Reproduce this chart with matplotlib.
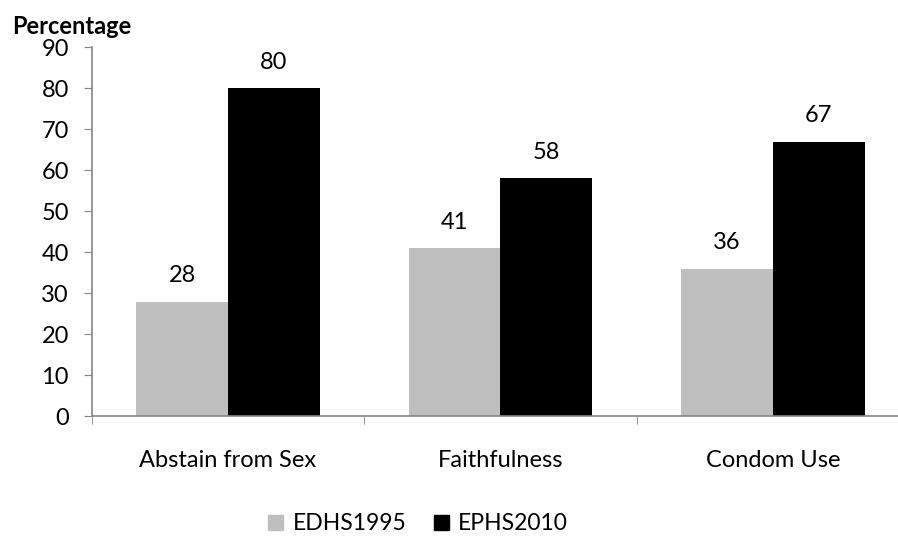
import matplotlib
matplotlib.use("Agg")
import matplotlib.pyplot as plt
from matplotlib.patches import Patch
import numpy as np

categories = ["Abstain from Sex", "Faithfulness", "Condom Use"]
edhs1995 = [28, 41, 36]
ephs2010 = [80, 58, 67]
series_names = ["EDHS1995", "EPHS2010"]

plt.rcParams['font.family'] = ['Lato', 'DejaVu Sans']

fig = plt.figure(figsize=(8.98, 5.37), dpi=100)
ax = fig.add_axes([91.7 / 898, 1 - 416.3 / 537, 817.5 / 898, (416.3 - 47.3) / 537])

x = np.arange(len(categories))
w = 0.336
gray = "#bfbfbf"
axis_col = "#868686"
fs = 17

b1 = ax.bar(x - w / 2, edhs1995, w, color=gray)
b2 = ax.bar(x + w / 2, ephs2010, w, color="black")

for bars, vals in ((b1, edhs1995), (b2, ephs2010)):
    for r, v in zip(bars, vals):
        ax.annotate(str(v), (r.get_x() + r.get_width() / 2, v), xytext=(0, 11),
                    textcoords="offset points", ha="center", va="bottom", fontsize=fs)

ax.set_xlim(-0.5, 2.5)
ax.set_ylim(0, 90)
ax.set_yticks(range(0, 91, 10))
ax.set_xticks(x)
ax.set_xticklabels(categories)
ax.set_xticks([-0.5, 0.5, 1.5, 2.5], minor=True)
ax.tick_params(axis="x", which="major", length=0, pad=24, labelsize=fs)
ax.tick_params(axis="x", which="minor", length=6, color=axis_col, direction="out")
ax.tick_params(axis="y", length=5.5, color=axis_col, labelsize=fs, pad=11)

for s in ("top", "right"):
    ax.spines[s].set_visible(False)
for s in ("left", "bottom"):
    ax.spines[s].set_color(axis_col)
    ax.spines[s].set_linewidth(1.2)

fig.text(12 / 898, 1 - 26 / 537, "Percentage", fontsize=17, fontweight="bold", va="center")

handles = [Patch(color=gray), Patch(color="black")]
fig.legend(handles, series_names, loc="center", bbox_to_anchor=(418 / 898, 1 - 524 / 537),
           ncol=2, frameon=False, fontsize=16.5, handlelength=0.65, handleheight=0.65,
           handletextpad=0.4, columnspacing=1.2)

fig.savefig("out.png", dpi=100)
